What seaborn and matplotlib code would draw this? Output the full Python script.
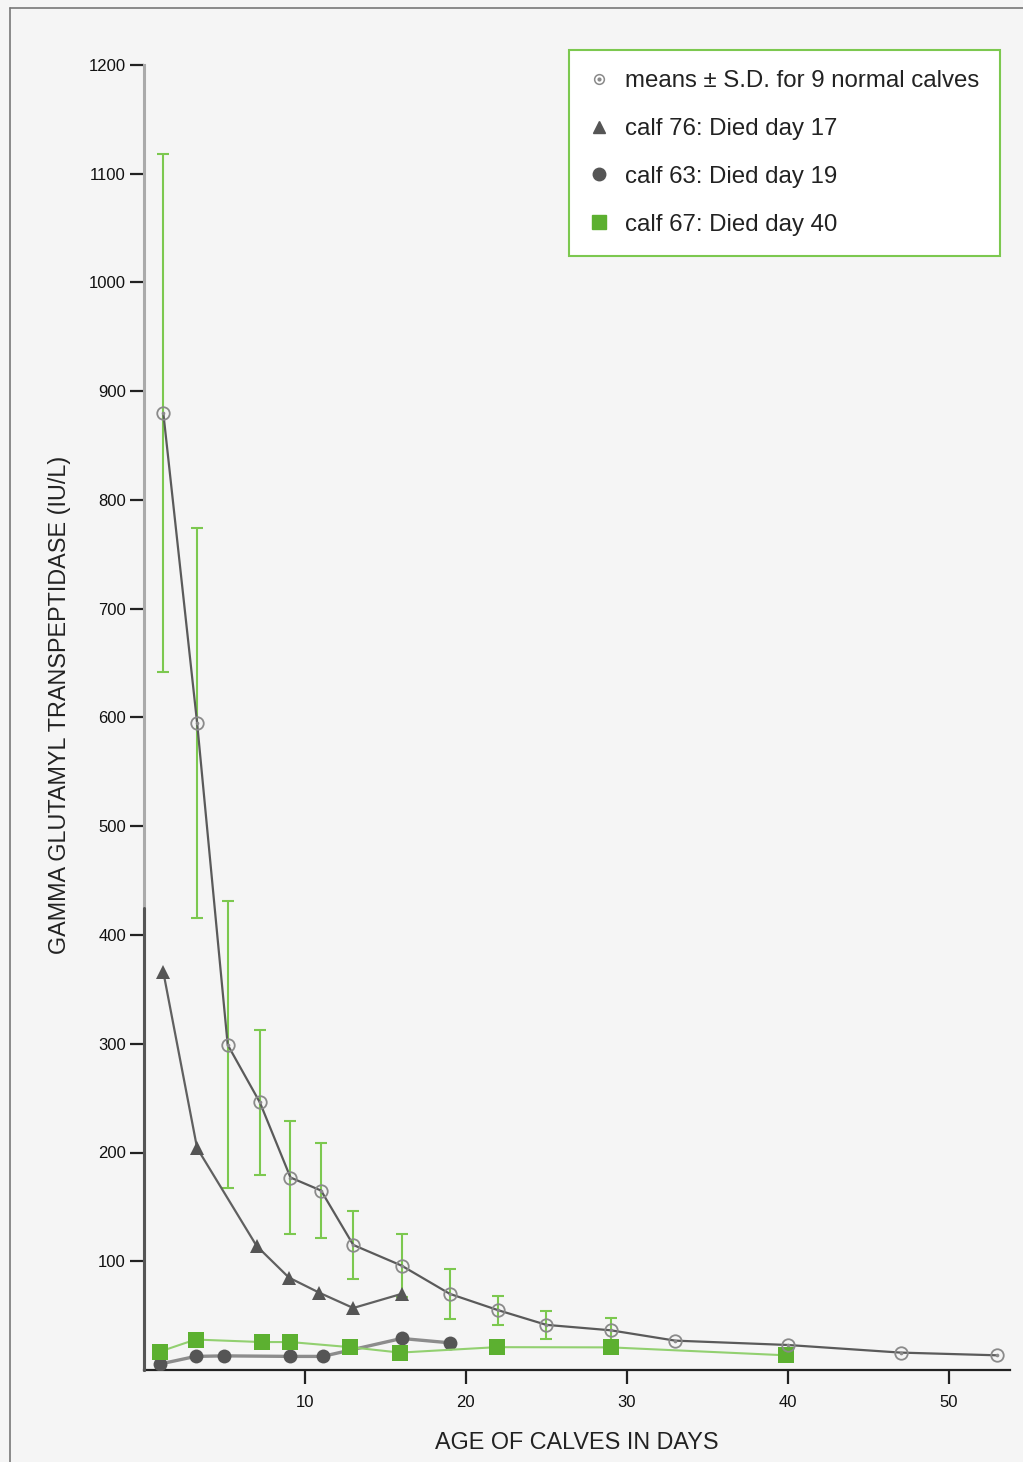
import matplotlib
matplotlib.use("Agg")
import matplotlib.pyplot as plt
from matplotlib.lines import Line2D
from matplotlib.legend_handler import HandlerTuple
import seaborn as sns
import pandas as pd
import numpy as np

# ---- data ----
mean_days = [1.2, 3.3, 5.2, 7.2, 9.1, 11.0, 13.0, 16.0, 19.0, 22.0, 25.0, 29.0, 33.0, 40.0, 47.0, 53.0]
mean_vals = [880, 595, 299, 246, 177, 165, 115, 96, 70, 55, 41.5, 36.5, 27, 23, 16, 13.5]
mean_sd = [238, 179, 132, 67, 52, 44, 31, 29, 23, 13.5, 13, 11, 0, 0, 0, 0]

calf76_days = [1.2, 3.3, 7.0, 9.0, 10.9, 13.0, 16.0]
calf76_vals = [366, 204, 114, 85, 71, 57, 70]

calf63_days = [1.0, 3.2, 5.0, 9.1, 11.1, 16.0, 19.0]
calf63_vals = [5.5, 12.5, 13, 12.5, 12.5, 29, 25]

calf67_days = [1.0, 3.2, 7.3, 9.1, 12.8, 15.9, 21.9, 29.0, 39.9]
calf67_vals = [17, 28, 25.7, 25.7, 21, 16, 21, 20.8, 13.5]

labels = ["means \u00b1 S.D. for 9 normal calves", "calf 76: Died day 17",
          "calf 63: Died day 19", "calf 67: Died day 40"]
x_ticks = [10, 20, 30, 40, 50]
y_ticks = [100, 200, 300, 400, 500, 600, 700, 800, 900, 1000, 1100, 1200]

# ---- style ----
BG = "#f5f5f5"
DARK = "#555555"
MEAN_C = "#8a8a8a"
GREEN = "#5cb030"
GREEN_ERR = "#7cc84f"
GREEN_LINE = "#92d070"

sns.set_theme(style="white")
plt.rcParams["font.family"] = ["Liberation Sans", "DejaVu Sans"]

fig = plt.figure(figsize=(10.23, 14.62), dpi=100, facecolor=BG)
W, H = 1023, 1462
ax = fig.add_axes([144 / W, 1 - 1370 / H, (1010 - 144) / W, (1370 - 65) / H])
ax.set_facecolor(BG)

# figure frame lines
fig.add_artist(Line2D([10 / W, 10 / W], [0, 1 - 8 / H], color="#777777", lw=1.2))
fig.add_artist(Line2D([10 / W, 1], [1 - 8 / H, 1 - 8 / H], color="#777777", lw=1.2))

mean_df = pd.DataFrame({"day": mean_days, "val": mean_vals, "sd": mean_sd})
c76 = pd.DataFrame({"day": calf76_days, "val": calf76_vals})
c63 = pd.DataFrame({"day": calf63_days, "val": calf63_vals})
c67 = pd.DataFrame({"day": calf67_days, "val": calf67_vals})

# error bars
eb = mean_df[mean_df["sd"] > 0]
ax.errorbar(eb["day"], eb["val"], yerr=eb["sd"], fmt="none", ecolor=GREEN_ERR,
            elinewidth=1.5, capsize=4, capthick=1.5, zorder=2)

# calf 63 (gray line, dark circles)
sns.lineplot(data=c63, x="day", y="val", ax=ax, color="#8c8c8c", lw=2.4,
             marker="o", markersize=10, markerfacecolor=DARK, markeredgecolor=DARK,
             markeredgewidth=0, zorder=3, estimator=None, sort=False)
# calf 67 (light green line, green squares)
sns.lineplot(data=c67, x="day", y="val", ax=ax, color=GREEN_LINE, lw=1.5,
             marker="s", markersize=11, markerfacecolor=GREEN, markeredgecolor=GREEN,
             markeredgewidth=0, zorder=4, estimator=None, sort=False)
# calf 76 (dark line, triangles)
sns.lineplot(data=c76, x="day", y="val", ax=ax, color="#606060", lw=1.6,
             marker="^", markersize=10, markerfacecolor=DARK, markeredgecolor=DARK,
             markeredgewidth=0, zorder=5, estimator=None, sort=False)
# means (open circle with dot)
sns.lineplot(data=mean_df, x="day", y="val", ax=ax, color="#5a5a5a", lw=1.6,
             marker="o", markersize=9, markerfacecolor="none", markeredgecolor=MEAN_C,
             markeredgewidth=1.3, zorder=6, estimator=None, sort=False)
sns.scatterplot(data=mean_df, x="day", y="val", ax=ax, color=MEAN_C, s=7,
                linewidth=0, zorder=7)

# axes
ax.set_xlim(0, 53.8)
ax.set_ylim(0, 1200)
ax.set_xticks(x_ticks)
ax.set_yticks(y_ticks)
ax.set_xticklabels([str(t) for t in x_ticks])
ax.set_yticklabels([str(t) for t in y_ticks])
for s in ["top", "right"]:
    ax.spines[s].set_visible(False)
ax.spines["bottom"].set_color("#222222")
ax.spines["bottom"].set_linewidth(1.6)
ax.spines["left"].set_color("#aaaaaa")
ax.spines["left"].set_linewidth(2.2)
ax.axvline(0, ymin=0, ymax=425 / 1200, color="#555555", lw=2.2, clip_on=False, zorder=8)
ax.tick_params(axis="both", which="major", length=10, width=1.6, color="#222222",
               labelsize=12, labelcolor="#111111", bottom=True, left=True)
ax.tick_params(axis="x", pad=8)
ax.tick_params(axis="y", pad=3)

ax.set_xlabel("AGE OF CALVES IN DAYS", fontsize=16.8, color="#222222")
ax.set_ylabel("GAMMA GLUTAMYL TRANSPEPTIDASE (IU/L)", fontsize=16.8, color="#222222")
ax.xaxis.set_label_coords(0.5, -0.047)
ax.yaxis.set_label_coords(-0.084, 0.51)

# legend
h_mean = (Line2D([], [], ls="none", marker="o", markersize=7, mfc="none", mec=MEAN_C, mew=1.1),
          Line2D([], [], ls="none", marker="o", markersize=2, mfc=MEAN_C, mec=MEAN_C))
h76 = Line2D([], [], ls="none", marker="^", markersize=9, mfc=DARK, mec=DARK)
h63 = Line2D([], [], ls="none", marker="o", markersize=9, mfc=DARK, mec=DARK)
h67 = Line2D([], [], ls="none", marker="s", markersize=10, mfc=GREEN, mec=GREEN)
leg = ax.legend([h_mean, h76, h63, h67], labels,
                handler_map={tuple: HandlerTuple(ndivide=1)},
                loc="upper right", bbox_to_anchor=(1000 / W, 1 - 50 / H),
                bbox_transform=fig.transFigure, borderaxespad=0, frameon=True,
                fancybox=False, fontsize=17.3, labelspacing=1.07, handlelength=0.8,
                handletextpad=0.7, borderpad=0.85, framealpha=1)
leg.get_frame().set_edgecolor(GREEN_ERR)
leg.get_frame().set_linewidth(1.5)
leg.get_frame().set_facecolor("white")
for t in leg.get_texts():
    t.set_color("#222222")

fig.savefig("out.png", dpi=100, facecolor=BG)
